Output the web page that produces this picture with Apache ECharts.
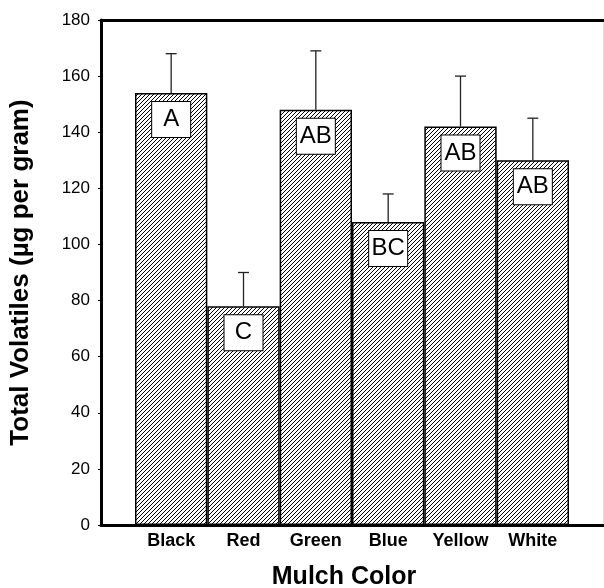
<!DOCTYPE html>
<html>
<head>
<meta charset="utf-8">
<script src="https://cdn.jsdelivr.net/npm/echarts@6/dist/echarts.min.js"></script>
<style>
html,body{margin:0;padding:0;background:#fff;}
#chart{width:604px;height:588px;}
</style>
</head>
<body>
<div id="chart"></div>
<script>
const categories = ['Black', 'Red', 'Green', 'Blue', 'Yellow', 'White'];
const means = [154, 78, 148, 108, 142, 130];
const errTops = [168, 90, 169, 118, 160, 145];
const letters = ['A', 'C', 'AB', 'BC', 'AB', 'AB'];
const yTicks = [0, 20, 40, 60, 80, 100, 120, 140, 160, 180];

const FONT = '"Liberation Sans", Arial, Helvetica, sans-serif';

// hatch pattern
const pc = document.createElement('canvas');
pc.width = 4; pc.height = 4;
const ctx = pc.getContext('2d');
ctx.fillStyle = '#fff';
ctx.fillRect(0, 0, 4, 4);
ctx.strokeStyle = '#000';
ctx.lineWidth = 1.0;
ctx.beginPath();
ctx.moveTo(-1, 5); ctx.lineTo(5, -1);
ctx.moveTo(-1, 1); ctx.lineTo(1, -1);
ctx.moveTo(3, 5); ctx.lineTo(5, 3);
ctx.stroke();

const chart = echarts.init(document.getElementById('chart'), null, {renderer: 'canvas'});

const option = {
  backgroundColor: '#fff',
  animation: false,
  grid: [
    {left: 100, right: 1, top: 20, bottom: 63},
    {left: 135, right: 35, top: 20, bottom: 63}
  ],
  xAxis: [
    {gridIndex: 0, type: 'category', data: [''], position: 'bottom',
     axisLine: {onZero: false, lineStyle: {color: '#000', width: 3}}, axisTick: {show: false}, axisLabel: {show: false}},
    {gridIndex: 0, type: 'category', data: [''], position: 'top',
     axisLine: {onZero: false, lineStyle: {color: '#000', width: 3}}, axisTick: {show: false}, axisLabel: {show: false}},
    {gridIndex: 1, type: 'category', data: categories, position: 'bottom',
     axisLine: {show: false}, axisTick: {show: false},
     axisLabel: {interval: 0, color: '#000', fontSize: 18, fontWeight: 'bold', fontFamily: FONT, margin: 7}}
  ],
  yAxis: [
    {gridIndex: 0, type: 'value', min: yTicks[0], max: yTicks[yTicks.length - 1], interval: 20,
     axisLine: {show: true, onZero: false, lineStyle: {color: '#000', width: 3}},
     axisTick: {show: true, length: 3, lineStyle: {color: '#000'}},
     splitLine: {show: false},
     axisLabel: {color: '#000', fontSize: 17, fontFamily: FONT, margin: 11},
     name: 'Total Volatiles (µg per gram)', nameLocation: 'middle', nameGap: 67,
     nameTextStyle: {color: '#000', fontSize: 26, fontWeight: 'bold', fontFamily: FONT}},
    {gridIndex: 0, type: 'value', min: 0, max: 180, position: 'right',
     axisLine: {show: true, onZero: false, lineStyle: {color: '#ddd', width: 1}},
     axisTick: {show: false}, axisLabel: {show: false}, splitLine: {show: false}},
    {gridIndex: 1, type: 'value', min: 0, max: 180, show: false, splitLine: {show: false}}
  ],
  series: [
    {
      type: 'bar', xAxisIndex: 2, yAxisIndex: 2,
      data: means, barWidth: '100%', barCategoryGap: 0,
      itemStyle: {color: {image: pc, repeat: 'repeat'}, borderColor: '#000', borderWidth: 1.5},
      label: {
        show: true, position: 'insideTop', distance: 9,
        formatter: p => letters[p.dataIndex],
        color: '#000', fontSize: 24, fontFamily: FONT,
        backgroundColor: '#fff', borderColor: '#000', borderWidth: 1,
        width: 38, height: 35, lineHeight: 35, align: 'center', verticalAlign: 'top'
      },
      z: 2
    },
    {
      type: 'custom', xAxisIndex: 2, yAxisIndex: 2,
      data: means.map((m, i) => [i, m, errTops[i]]),
      renderItem: function (params, api) {
        const b = api.coord([api.value(0), api.value(1)]);
        const t = api.coord([api.value(0), api.value(2)]);
        const st = {stroke: '#222', lineWidth: 1.3};
        return {
          type: 'group',
          children: [
            {type: 'line', shape: {x1: b[0], y1: b[1], x2: t[0], y2: t[1]}, style: st},
            {type: 'line', shape: {x1: t[0] - 5.5, y1: t[1], x2: t[0] + 5.5, y2: t[1]}, style: st}
          ]
        };
      },
      z: 3
    }
  ],
  graphic: [
    {type: 'text', x: 344, y: 577,
     style: {text: 'Mulch Color', font: 'bold 25px ' + FONT, fill: '#000', textAlign: 'center', textVerticalAlign: 'middle'}}
  ]
};
chart.setOption(option);
</script>
</body>
</html>
